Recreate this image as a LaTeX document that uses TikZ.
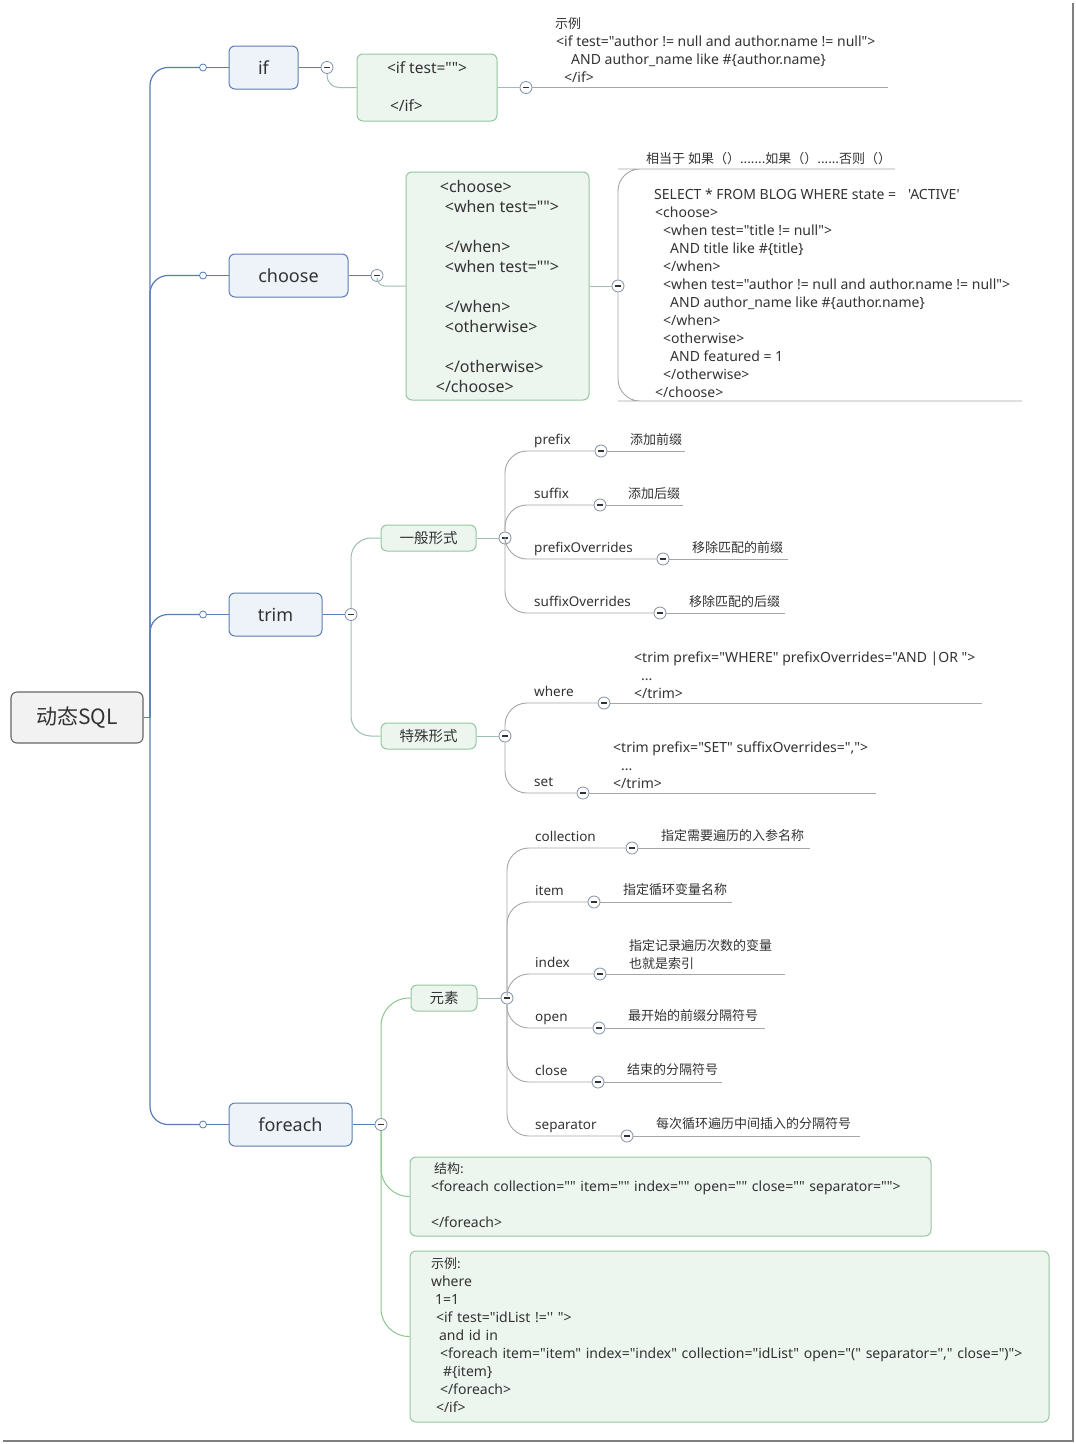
\documentclass[tikz,border=0pt]{standalone}
\usepackage{fontspec}
\setmainfont{Noto Sans}[Ligatures=TeXOff]
\newfontfamily\cjk{Noto Sans CJK SC}[Ligatures=TeXOff]
\definecolor{txtc}{HTML}{333333}
\definecolor{trunkc}{HTML}{5A7DB3}
\definecolor{l1fill}{HTML}{EEF3FA}
\definecolor{l1border}{HTML}{5B7DB1}
\definecolor{rootfill}{HTML}{F2F2F2}
\definecolor{rootborder}{HTML}{666666}
\definecolor{gfill}{HTML}{EDF5EF}
\definecolor{gborder}{HTML}{93C7A0}
\definecolor{glinec}{HTML}{8CC78C}
\definecolor{tlinec}{HTML}{9DBFAF}
\definecolor{clinec}{HTML}{A6A6A6}
\definecolor{collc}{HTML}{7F8FA6}
\definecolor{framec}{HTML}{808080}
\begin{document}
\begin{tikzpicture}[x=1pt,y=-1pt]
\tikzset{
 every node/.style={text=txtc},
 lbl/.style={font=\fontsize{13.5}{18}\selectfont, inner sep=0pt, anchor=west, text height=10pt, text depth=1pt},
 note/.style={font=\cjk\fontsize{13}{18}\selectfont, inner sep=0pt, anchor=west, text height=10pt, text depth=1pt},
 ml/.style={font=\fontsize{14}{18}\selectfont, inner sep=0pt, anchor=north west, align=left},
 rootn/.style={draw=rootborder, fill=rootfill, rounded corners=6pt, line width=1.1pt, font=\cjk\fontsize{21}{24}\selectfont, inner sep=0pt, minimum width=132pt, minimum height=51pt},
 l1/.style={draw=l1border, fill=l1fill, rounded corners=6pt, line width=1pt, font=\fontsize{18}{20}\selectfont, inner sep=0pt, minimum height=43pt},
 gbox/.style={draw=gborder, fill=gfill, rounded corners=6pt, line width=1pt, inner sep=0pt},
 gsmall/.style={gbox, font=\cjk\fontsize{14.5}{18}\selectfont, minimum height=26pt},
 coll/.style={circle, draw=collc, fill=white, minimum size=12pt, inner sep=0pt, line width=0.8pt,
   path picture={\draw[txtc, line width=1.1pt] ([xshift=-2.8pt]path picture bounding box.center) -- ([xshift=2.8pt]path picture bounding box.center);}},
 dotn/.style={circle, draw=trunkc, fill=white, minimum size=7pt, inner sep=0pt, line width=0.8pt},
 trunk/.style={draw=trunkc, line width=1.2pt},
 gline/.style={draw=glinec, line width=1pt},
 tline/.style={draw=tlinec, line width=1pt},
 cline/.style={draw=clinec, line width=0.9pt},
}
\useasboundingbox (0,0) rectangle (1076,1444);
\fill[white] (0,0) rectangle (1076,1444);
\draw[framec, line width=2pt] (1073,3) -- (1073,1441) -- (3,1441);

% root and trunk
\node[rootn] (root) at (77,717.5) {动态SQL};
\coordinate (j) at (150,717.5);
\node[l1, minimum width=69pt] (if) at (263.5,67.5) {if};
\node[l1, minimum width=119pt] (choose) at (288.5,275.5) {choose};
\node[l1, minimum width=93pt] (trim) at (275.5,614.5) {trim};
\node[l1, minimum width=123pt] (foreach) at (290.5,1124.5) {foreach};
\node[dotn] (d1) at (203,67.5) {};
\node[dotn] (d2) at (203,275.5) {};
\node[dotn] (d3) at (203,614.5) {};
\node[dotn] (d4) at (203,1124.5) {};
\draw[trunk] (root.east) -- (j);
\draw[trunk, rounded corners=18pt] (j) |- (d1);
\draw[trunk, rounded corners=18pt] (j) |- (d2);
\draw[trunk, rounded corners=18pt] (j) |- (d3);
\draw[trunk, rounded corners=18pt] (j) |- (d4);
\draw[trunk] (d1) -- (if);
\draw[trunk] (d2) -- (choose);
\draw[trunk] (d3) -- (trim);
\draw[trunk] (d4) -- (foreach);

% if branch
\node[coll] (c1) at (327,67.5) {};
\draw[trunk, line width=0.9pt] (if) -- (c1);
\node[gbox, minimum width=140pt, minimum height=67pt, align=left, font=\fontsize{15.5}{20}\selectfont] (ifbox) at (427,87.5)
 {\strut\raisebox{-1.5pt}{<if test="">}\\\mbox{}\\\hspace*{3pt}</if>\strut};
\draw[tline, rounded corners=12pt] (c1) |- (ifbox.west);
\node[coll] (c1b) at (526,87.5) {};
\draw[tline] (ifbox) -- (c1b);
\coordinate (ifend) at (888,87.5);
\draw[cline] (c1b) -- (ifend);
\node[ml] (ifnote) at (555,15.5)
 {\strut{\cjk\fontsize{13}{18}\selectfont 示例}\\\hspace*{1pt}<if test="author != null and author.name != null">\\\hspace*{16pt}AND author\_name like \#\{author.name\}\\\hspace*{9pt}</if>};

% choose branch
\node[coll] (c2) at (377,275.5) {};
\draw[trunk, line width=0.9pt] (choose) -- (c2);
\node[gbox, minimum width=183pt, minimum height=228pt, align=left, font=\fontsize{16}{20}\selectfont] (cbox) at (497.5,286)
 {\rule{0pt}{18pt}\hspace*{4pt}<choose>\\
  \hspace*{9pt}<when test="">\\
  \mbox{}\\
  \hspace*{9pt}</when>\\
  \hspace*{9pt}<when test="">\\
  \mbox{}\\
  \hspace*{9pt}</when>\\
  \hspace*{9pt}<otherwise>\\
  \mbox{}\\
  \hspace*{9pt}</otherwise>\\
  </choose>\strut};
\draw[tline, rounded corners=8pt] (c2) |- (cbox.west);
\node[coll] (c2b) at (618,286) {};
\draw[tline] (cbox) -- (c2b);
\coordinate (cta) at (640,169);
\coordinate (ctb) at (895,169);
\coordinate (cca) at (640,401);
\coordinate (ccb) at (1022,401);
\draw[cline, rounded corners=22pt] (c2b) |- (cta) -- (ctb);
\draw[cline, rounded corners=22pt] (c2b) |- (cca) -- (ccb);
\node[note] (ctitle) at (646,159) {相当于 如果（）.......如果（）......否则（）};
\node[ml] (ccode) at (654,186.5)
 {\strut SELECT * FROM BLOG WHERE state =\hspace*{12pt}'ACTIVE'\\
  \hspace*{1pt}<choose>\\
  \hspace*{9pt}<when test="title != null">\\
  \hspace*{16pt}AND title like \#\{title\}\\
  \hspace*{9pt}</when>\\
  \hspace*{9pt}<when test="author != null and author.name != null">\\
  \hspace*{16pt}AND author\_name like \#\{author.name\}\\
  \hspace*{9pt}</when>\\
  \hspace*{9pt}<otherwise>\\
  \hspace*{16pt}AND featured = 1\\
  \hspace*{9pt}</otherwise>\\
  \hspace*{1pt}</choose>};

% trim branch
\node[coll] (c3) at (351,614.5) {};
\draw[trunk, line width=0.9pt] (trim) -- (c3);
\node[gsmall, minimum width=95pt] (g1) at (428.5,538) {一般形式};
\node[gsmall, minimum width=95pt] (g2) at (428.5,736) {特殊形式};
\draw[tline, rounded corners=20pt] (c3) |- (g1);
\draw[tline, rounded corners=20pt] (c3) |- (g2);
\node[coll] (c4) at (505,538) {};
\draw[tline] (g1) -- (c4);
\node[coll] (cp1) at (601,451) {};
\node[coll] (cp2) at (600,505) {};
\node[coll] (cp3) at (663,559) {};
\node[coll] (cp4) at (660,613) {};
\draw[cline, rounded corners=22pt] (c4) |- (cp1);
\draw[cline, rounded corners=22pt] (c4) |- (cp2);
\draw[cline, rounded corners=22pt] (c4) |- (cp3);
\draw[cline, rounded corners=22pt] (c4) |- (cp4);
\node[lbl] (lp1) at (534,440) {prefix};
\node[lbl] (lp2) at (534,494) {suffix};
\node[lbl] (lp3) at (534,548) {prefixOverrides};
\node[lbl] (lp4) at (534,602) {suffixOverrides};
\coordinate (ep1) at (685,451);
\coordinate (ep2) at (683,505);
\coordinate (ep3) at (788,559);
\coordinate (ep4) at (785,613);
\draw[cline] (cp1) -- (ep1);
\draw[cline] (cp2) -- (ep2);
\draw[cline] (cp3) -- (ep3);
\draw[cline] (cp4) -- (ep4);
\node[note] (np1) at (630,440) {添加前缀};
\node[note] (np2) at (628,494) {添加后缀};
\node[note] (np3) at (692,548) {移除匹配的前缀};
\node[note] (np4) at (689,602) {移除匹配的后缀};

\node[coll] (c5) at (505,736) {};
\draw[tline] (g2) -- (c5);
\node[coll] (cw) at (604,703) {};
\node[coll] (cs) at (583,793) {};
\draw[cline, rounded corners=22pt] (c5) |- (cw);
\draw[cline, rounded corners=22pt] (c5) |- (cs);
\node[lbl] (lw) at (534,692) {where};
\node[lbl] (ls) at (534,782) {set};
\coordinate (ew) at (982,703);
\coordinate (es) at (876,793);
\draw[cline] (cw) -- (ew);
\draw[cline] (cs) -- (es);
\node[ml] (nw) at (634,649.5)
 {\strut<trim prefix="WHERE" prefixOverrides="AND |OR ">\\\hspace*{7pt}...\\</trim>};
\node[ml] (ns) at (613,739.5)
 {\strut<trim prefix="SET" suffixOverrides=",">\\\hspace*{8pt}...\\</trim>};

% foreach branch
\node[coll] (c6) at (381,1124.5) {};
\draw[trunk, line width=0.9pt] (foreach) -- (c6);
\node[gsmall, minimum width=66pt] (e1) at (444,998) {元素};
\node[gbox, minimum width=521pt, minimum height=79pt, text width=479pt, align=left, font=\fontsize{14}{18}\selectfont] (s1) at (670.5,1196.5)
 {\strut\hspace*{3pt}{\cjk\fontsize{13}{18}\selectfont 结构:}\\
  <foreach collection="" item="" index="" open="" close="" separator="">\\
  \mbox{}\\
  </foreach>\strut};
\node[gbox, minimum width=639pt, minimum height=171pt, text width=597pt, align=left, font=\fontsize{14}{18}\selectfont] (s2) at (729.5,1336.5)
 {\strut{\cjk\fontsize{13}{18}\selectfont 示例:}\\
  where\\
  \hspace*{4pt}1=1\\
  \hspace*{5pt}<if test="idList !='' ">\\
  \hspace*{8pt}and id in\\
  \hspace*{9pt}<foreach item="item" index="index" collection="idList" open="(" separator="," close=")">\\
  \hspace*{12pt}\#\{item\}\\
  \hspace*{9pt}</foreach>\\
  \hspace*{5pt}</if>\strut};
\draw[gline, rounded corners=28pt] (c6) |- (e1);
\draw[gline, rounded corners=28pt] (c6) |- (s1);
\draw[gline, rounded corners=28pt] (c6) |- (s2);

\node[coll] (c7) at (507,998) {};
\draw[tline] (e1) -- (c7);
\node[coll] (cc1) at (632,848) {};
\node[coll] (cc2) at (594,902) {};
\node[coll] (cc3) at (600,974) {};
\node[coll] (cc4) at (599,1028) {};
\node[coll] (cc5) at (598,1082) {};
\node[coll] (cc6) at (627,1136) {};
\draw[cline, rounded corners=22pt] (c7) |- (cc1);
\draw[cline, rounded corners=22pt] (c7) |- (cc2);
\draw[cline, rounded corners=22pt] (c7) |- (cc3);
\draw[cline, rounded corners=22pt] (c7) |- (cc4);
\draw[cline, rounded corners=22pt] (c7) |- (cc5);
\draw[cline, rounded corners=22pt] (c7) |- (cc6);
\node[lbl] (lc1) at (535,837) {collection};
\node[lbl] (lc2) at (535,891) {item};
\node[lbl] (lc3) at (535,963) {index};
\node[lbl] (lc4) at (535,1017) {open};
\node[lbl] (lc5) at (535,1071) {close};
\node[lbl] (lc6) at (535,1125) {separator};
\coordinate (ec1) at (810,848);
\coordinate (ec2) at (732,902);
\coordinate (ec3) at (785,974);
\coordinate (ec4) at (765,1028);
\coordinate (ec5) at (722,1082);
\coordinate (ec6) at (860,1136);
\draw[cline] (cc1) -- (ec1);
\draw[cline] (cc2) -- (ec2);
\draw[cline] (cc3) -- (ec3);
\draw[cline] (cc4) -- (ec4);
\draw[cline] (cc5) -- (ec5);
\draw[cline] (cc6) -- (ec6);
\node[note] (nc1) at (661,836) {指定需要遍历的入参名称};
\node[note] (nc2) at (623,890) {指定循环变量名称};
\node[ml, font=\cjk\fontsize{13}{18}\selectfont] (nc3) at (629,937.5) {\strut 指定记录遍历次数的变量\\也就是索引};
\node[note] (nc4) at (628,1016) {最开始的前缀分隔符号};
\node[note] (nc5) at (627,1070) {结束的分隔符号};
\node[note] (nc6) at (656,1124) {每次循环遍历中间插入的分隔符号};
\end{tikzpicture}
\end{document}
